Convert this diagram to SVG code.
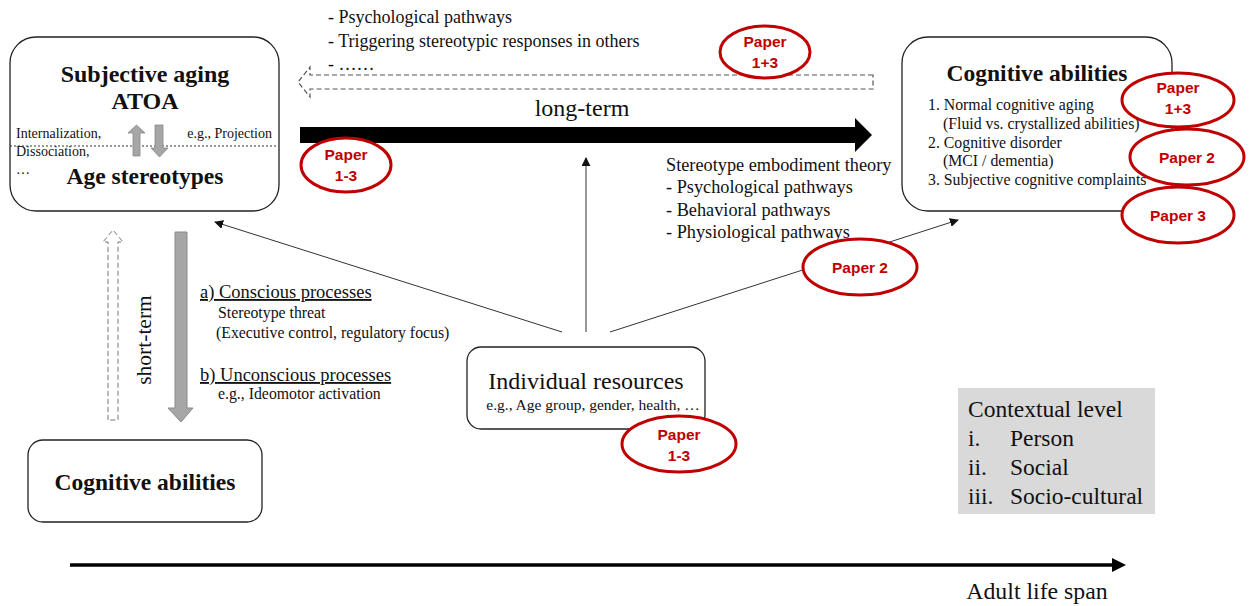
<svg xmlns="http://www.w3.org/2000/svg" width="1249" height="606" viewBox="0 0 1249 606">
<style>
.box{fill:#fff;stroke:#222;stroke-width:1.3}
.t{font-family:"Liberation Serif",serif;fill:#111}
.b{font-weight:bold}
.pp ellipse{fill:#fff;stroke:#C00000;stroke-width:3}
.pp text{font-family:"Liberation Sans",Arial,sans-serif;font-weight:bold;font-size:15.5px;fill:#C00000;text-anchor:middle}
.thin{stroke:#333;stroke-width:1;fill:none;marker-end:url(#ah)}
</style>
<defs>
<marker id="ah" viewBox="0 0 10 10" refX="9" refY="5" markerWidth="9" markerHeight="9" markerUnits="userSpaceOnUse" orient="auto"><path d="M0,0 L10,5 L0,10 z" fill="#111"/></marker>
</defs>
<rect width="1249" height="606" fill="#fff"/>

<g id="connectors">
  <path d="M873,75 L310,75 L310,67 L298,82 L310,97 L310,89 L873,89 Z" fill="none" stroke="#555" stroke-width="1.2" stroke-dasharray="5,3"/>
  <path d="M300,127 L855,127 L855,118 L872,135 L855,152 L855,143 L300,143 Z" fill="#000"/>
  <path d="M108,420 L108,242 L103,242 L113,230 L123,242 L118,242 L118,420 Z" fill="none" stroke="#777" stroke-width="1" stroke-dasharray="5,3"/>
  <path d="M175,232 L187,232 L187,408 L193,408 L181,422 L168,408 L175,408 Z" fill="#A6A6A6" stroke="#8a8a8a" stroke-width="1"/>
  <line class="thin" x1="586" y1="332" x2="586" y2="158"/>
  <line class="thin" x1="562" y1="332" x2="215" y2="222"/>
  <line class="thin" x1="610" y1="332" x2="958" y2="220"/>
  <line x1="70" y1="565" x2="1114" y2="565" stroke="#000" stroke-width="3.5"/>
  <path d="M1112,558 L1126,565 L1112,572 Z" fill="#000"/>
</g>

<g id="top-texts" class="t" font-size="18">
  <text x="328" y="23">- Psychological pathways</text>
  <text x="328" y="47">- Triggering stereotypic responses in others</text>
  <text x="328" y="70">- ……</text>
  <text x="582" y="116" font-size="24" text-anchor="middle">long-term</text>
</g>

<g id="subjective-aging">
  <rect class="box" x="10" y="37" width="269" height="174" rx="26"/>
  <text class="t b" x="145" y="82" font-size="24" text-anchor="middle">Subjective aging</text>
  <text class="t b" x="145" y="109" font-size="24" text-anchor="middle">ATOA</text>
  <text class="t" x="16" y="138" font-size="14">Internalization,</text>
  <text class="t" x="16" y="156" font-size="14">Dissociation,</text>
  <text class="t" x="16" y="174" font-size="14">…</text>
  <text class="t" x="272" y="138" font-size="14" text-anchor="end">e.g., Projection</text>
  <line x1="10" y1="146" x2="277" y2="146" stroke="#333" stroke-width="1" stroke-dasharray="2,2"/>
  <path d="M133,156 L140,156 L140,133 L145,133 L136.5,125 L128,133 L133,133 Z" fill="#A6A6A6" stroke="#888" stroke-width="0.8"/>
  <path d="M155,125 L163,125 L163,148 L168,148 L159.5,157 L151,148 L155,148 Z" fill="#A6A6A6" stroke="#888" stroke-width="0.8"/>
  <text class="t b" x="145" y="184" font-size="23.5" text-anchor="middle">Age stereotypes</text>
</g>

<g id="cognitive-abilities-right">
  <rect class="box" x="902" y="37" width="270" height="174" rx="26"/>
  <text class="t b" x="1037" y="81" font-size="23.5" text-anchor="middle">Cognitive abilities</text>
  <g class="t" font-size="15.8">
    <text x="928" y="110">1. Normal cognitive aging</text>
    <text x="943" y="129">(Fluid vs. crystallized abilities)</text>
    <text x="928" y="148">2. Cognitive disorder</text>
    <text x="943" y="166">(MCI / dementia)</text>
    <text x="928" y="185">3. Subjective cognitive complaints</text>
  </g>
</g>

<g id="embodiment-texts" class="t" font-size="18.3">
  <text x="666" y="171">Stereotype embodiment theory</text>
  <text x="666" y="193">- Psychological pathways</text>
  <text x="666" y="216">- Behavioral pathways</text>
  <text x="666" y="238">- Physiological pathways</text>
</g>

<g id="short-term-texts" class="t">
  <text x="0" y="0" font-size="21.5" text-anchor="middle" transform="translate(151,340) rotate(-90)">short-term</text>
  <text x="200" y="298" font-size="18.5" text-decoration="underline">a) Conscious processes</text>
  <text x="218" y="318" font-size="15.8">Stereotype threat</text>
  <text x="216" y="338" font-size="15.8">(Executive control, regulatory focus)</text>
  <text x="200" y="381" font-size="18.5" text-decoration="underline">b) Unconscious processes</text>
  <text x="218" y="399" font-size="15.8">e.g., Ideomotor activation</text>
</g>

<g id="individual-resources">
  <rect class="box" x="467" y="347" width="238" height="82" rx="14"/>
  <text class="t" x="586" y="389" font-size="24" text-anchor="middle">Individual resources</text>
  <text class="t" x="593" y="410" font-size="15.5" text-anchor="middle">e.g., Age group, gender, health, …</text>
</g>

<g id="cognitive-abilities-left">
  <rect class="box" x="28" y="440" width="234" height="82" rx="15"/>
  <text class="t b" x="145" y="490" font-size="23.5" text-anchor="middle">Cognitive abilities</text>
</g>

<g id="contextual-level">
  <rect x="958" y="388" width="197" height="126" fill="#D9D9D9"/>
  <g class="t" font-size="23.5">
    <text x="968" y="417">Contextual level</text>
    <text x="968" y="446">i.</text><text x="1010" y="446">Person</text>
    <text x="968" y="475">ii.</text><text x="1010" y="475">Social</text>
    <text x="968" y="504">iii.</text><text x="1010" y="504">Socio-cultural</text>
  </g>
</g>

<g id="adult-life-span">
  <text class="t" x="1037" y="599" font-size="23.8" text-anchor="middle">Adult life span</text>
</g>

<g id="paper-top" class="pp">
  <ellipse cx="765" cy="52" rx="45" ry="26"/>
  <text x="765" y="47">Paper</text><text x="765" y="68">1+3</text>
</g>
<g id="paper-left" class="pp">
  <ellipse cx="346" cy="165" rx="45" ry="27"/>
  <text x="346" y="160">Paper</text><text x="346" y="181">1-3</text>
</g>
<g id="paper-right-1" class="pp">
  <ellipse cx="1178" cy="100" rx="56" ry="27"/>
  <text x="1178" y="93">Paper</text><text x="1178" y="114">1+3</text>
</g>
<g id="paper-right-2" class="pp">
  <ellipse cx="1187" cy="157" rx="57" ry="28"/>
  <text x="1187" y="163">Paper 2</text>
</g>
<g id="paper-right-3" class="pp">
  <ellipse cx="1178" cy="215" rx="56" ry="28"/>
  <text x="1178" y="221">Paper 3</text>
</g>
<g id="paper-mid" class="pp">
  <ellipse cx="860" cy="267" rx="57" ry="28"/>
  <text x="860" y="273">Paper 2</text>
</g>
<g id="paper-bottom" class="pp">
  <ellipse cx="679" cy="444" rx="57" ry="28"/>
  <text x="679" y="440">Paper</text><text x="679" y="461">1-3</text>
</g>
</svg>
